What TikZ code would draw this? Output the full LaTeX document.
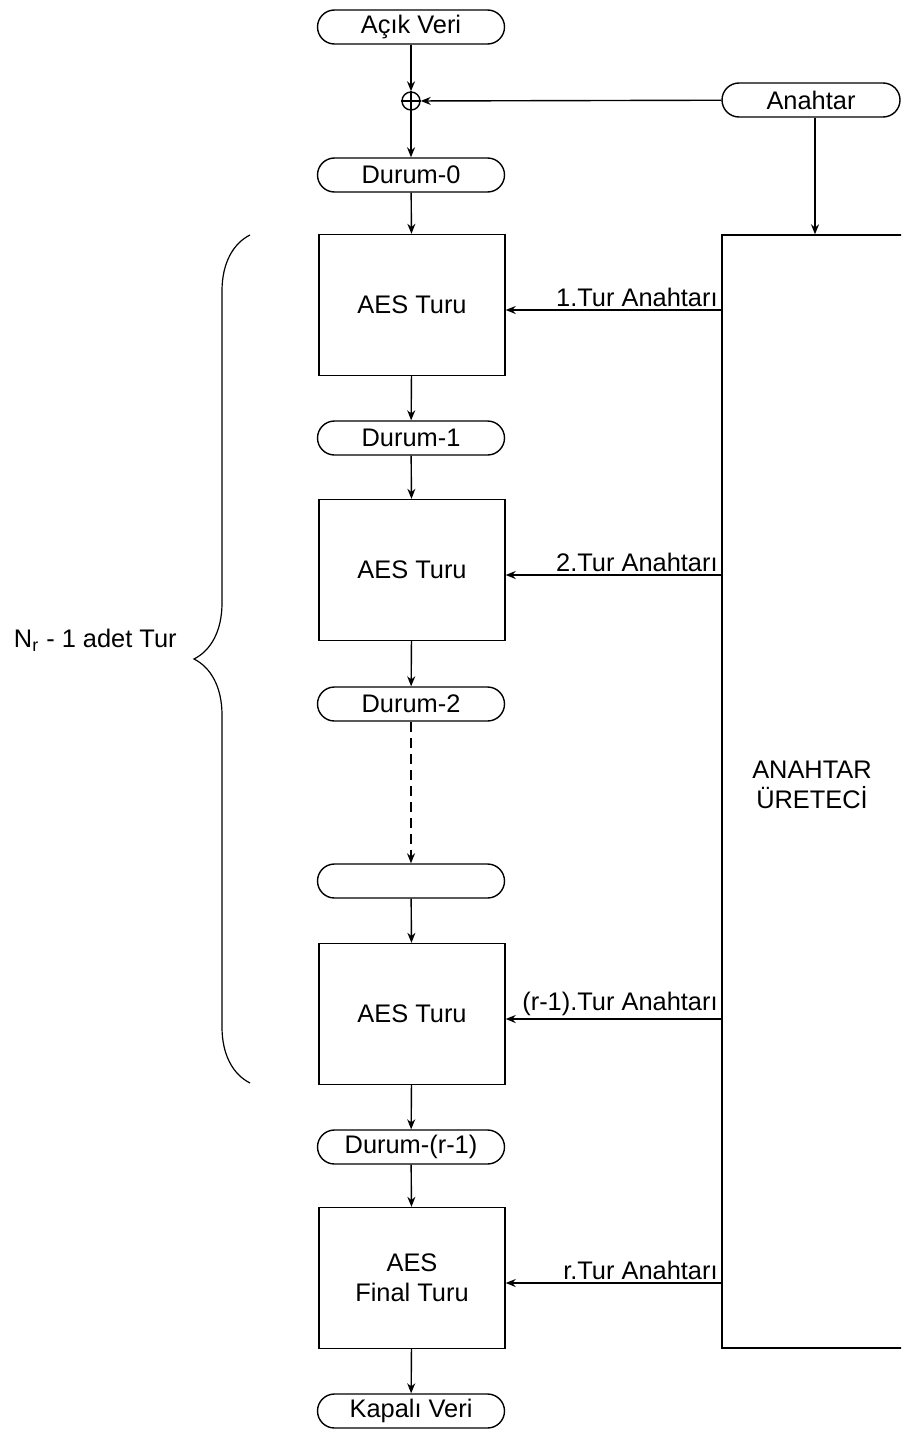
\documentclass[tikz,border=0pt]{standalone}
\usepackage{fontspec}
\setmainfont{Liberation Sans}
\usetikzlibrary{
  arrows.meta,
  positioning,
  calc,
  decorations.pathreplacing
}

\begin{document}
\begin{tikzpicture}[
    x=0.5pt, y=-0.5pt,
    terminal/.style={draw, rounded corners=8.5pt, minimum width=93.5pt,
                     minimum height=17pt, inner sep=0pt},
    roundbox/.style={draw, minimum width=93pt, minimum height=70.5pt,
                     inner sep=0pt, align=center},
    keylabel/.style={anchor=south east, inner sep=1.5pt},
    >={Stealth[length=5pt,width=4pt]}, line width=0.7pt,
    font=\fontsize{12.7}{15}\selectfont
  ]
  \useasboundingbox (0,0) rectangle (901,1434);
  \clip (0,0) rectangle (901,1434);

  %% Data path
  \node[terminal] (plain) at (411,27) {Açık Veri};
  \node[circle, draw, minimum size=9pt, inner sep=0pt] (xor) at (411,101) {};
  \draw (xor.north) -- (xor.south) (xor.west) -- (xor.east);
  \node[terminal] (s0) at (411,175) {Durum-0};
  \node[roundbox] (aes1) at (412,305) {AES Turu};
  \node[terminal] (s1) at (411,438) {Durum-1};
  \node[roundbox] (aes2) at (412,570) {AES Turu};
  \node[terminal] (s2) at (411,704) {Durum-2};
  \node[terminal] (sx) at (411,881) {};
  \node[roundbox] (aes3) at (412,1014) {AES Turu};
  \node[terminal] (sr) at (411,1147) {Durum-(r-1)};
  \node[roundbox] (aesf) at (412,1278) {AES\\Final Turu};
  \node[terminal] (cipher) at (411,1411) {Kapalı Veri};

  \draw[->] (plain) -- (xor);
  \draw[->] (xor) -- (s0);
  \draw[->] (s0) -- (aes1);
  \draw[->] (aes1) -- (s1);
  \draw[->] (s1) -- (aes2);
  \draw[->] (aes2) -- (s2);
  \draw[->, dash pattern=on 5pt off 3pt] (s2) -- (sx);
  \draw[->] (sx) -- (aes3);
  \draw[->] (aes3) -- (sr);
  \draw[->] (sr) -- (aesf);
  \draw[->] (aesf) -- (cipher);

  %% Key schedule
  \node[terminal, minimum width=89pt] (key) at (811,100) {Anahtar};
  \node[draw, minimum width=150pt, minimum height=556.5pt, inner sep=0pt]
    (gen) at (872,791.5) {};
  \node[align=center] (genlbl) at (812,785) {ANAHTAR\\ÜRETECİ};

  \draw[->] (key) -- (xor);
  \draw[->] ([xshift=2pt]key.south) -- ([xshift=2pt]key.south |- gen.north);

  \foreach \blk/\lbl in {aes1/1.Tur Anahtarı, aes2/2.Tur Anahtarı,
                         aes3/(r-1).Tur Anahtarı, aesf/r.Tur Anahtarı} {
    \draw[->] ([yshift=-2.5pt]\blk.east -| gen.west)
      node[keylabel] {\lbl} -- ([yshift=-2.5pt]\blk.east);
  }

  %% Rounds brace
  \draw[decorate, decoration={brace, amplitude=28pt}, line width=0.6pt]
    (250,1083) -- (250,235);
  \node[anchor=east] (nr) at (184,640) {N\textsubscript{r} - 1 adet Tur};

\end{tikzpicture}
\end{document}
